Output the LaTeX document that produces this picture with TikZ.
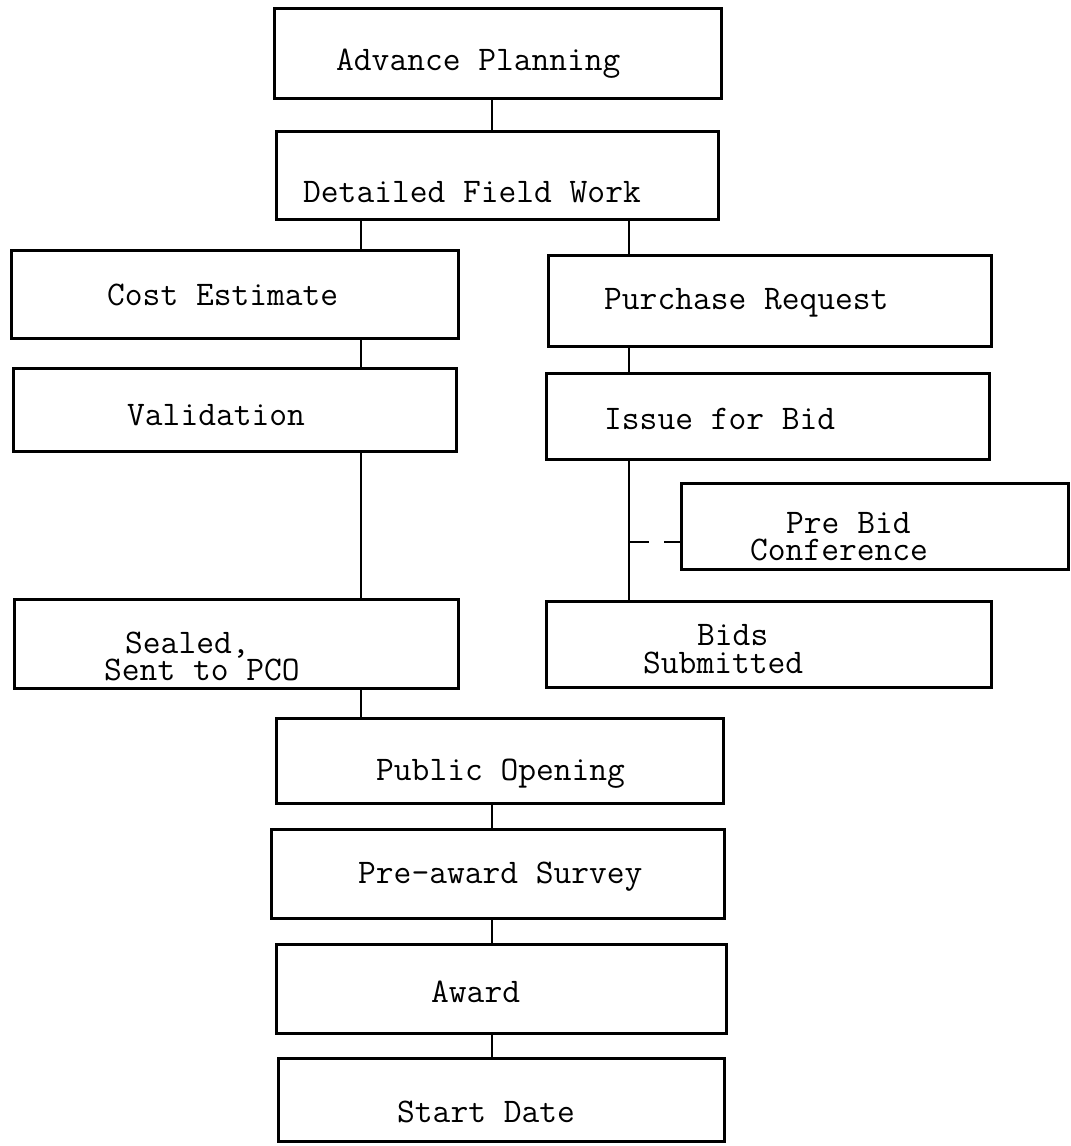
\documentclass[tikz,border=0pt]{standalone}
\begin{document}
\begin{tikzpicture}[x=1pt,y=-1pt,
  box/.style={draw, line width=3pt, inner sep=0pt, anchor=north west},
  lbl/.style={anchor=base west, inner sep=0pt, font=\ttfamily\fontsize{34.5}{28}\selectfont},
  link/.style={line width=2.2pt},
  ]
\useasboundingbox (0,0) rectangle (1071,1146);

% boxes (top-left corner, width, height)
\node[box, minimum width=447, minimum height=90] (plan)   at (273,7)    {};
\node[box, minimum width=442, minimum height=88] (field)  at (275,130)  {};
\node[box, minimum width=447, minimum height=88] (cost)   at (10,249)   {};
\node[box, minimum width=443, minimum height=91] (purch)  at (547,254)  {};
\node[box, minimum width=443, minimum height=83] (valid)  at (12,367)   {};
\node[box, minimum width=443, minimum height=86] (issue)  at (545,372)  {};
\node[box, minimum width=387, minimum height=86] (prebid) at (680,482)  {};
\node[box, minimum width=444, minimum height=89] (sealed) at (13,598)   {};
\node[box, minimum width=445, minimum height=86] (bids)   at (545,600)  {};
\node[box, minimum width=447, minimum height=85] (open)   at (275,717)  {};
\node[box, minimum width=453, minimum height=89] (survey) at (270,828)  {};
\node[box, minimum width=450, minimum height=89] (award)  at (275,943)  {};
\node[box, minimum width=446, minimum height=83] (start)  at (277,1057) {};

% typed labels
\node[lbl] (plan-t)    at (336,70)   {Advance Planning};
\node[lbl] (field-t)   at (303,202)  {Detailed Field Work};
\node[lbl] (cost-t)    at (107,305)  {Cost Estimate};
\node[lbl] (purch-t)   at (604,309)  {Purchase Request};
\node[lbl] (valid-t)   at (127,425)  {Validation};
\node[lbl] (issue-t)   at (604,429)  {Issue for Bid};
\node[lbl] (prebid-t1) at (786,533)  {Pre Bid};
\node[lbl] (prebid-t2) at (750,560)  {Conference};
\node[lbl] (sealed-t1) at (125,653)  {Sealed,};
\node[lbl] (sealed-t2) at (104,680)  {Sent to PCO};
\node[lbl] (bids-t1)   at (697,645)  {Bids};
\node[lbl] (bids-t2)   at (643,673)  {Submitted};
\node[lbl] (open-t)    at (376,780)  {Public Opening};
\node[lbl] (survey-t)  at (358,883)  {Pre-award Survey};
\node[lbl] (award-t)   at (431,1002) {Award};
\node[lbl] (start-t)   at (397,1122) {Start Date};

% columns of the connectors
\coordinate (cmid) at (492,0);
\coordinate (cleft) at (361,0);
\coordinate (cright) at (629,0);
\coordinate (tap) at (629,542);

\draw[link] (cmid |- plan.south) -- (cmid |- field.north);
\draw[link] (cleft |- field.south) -- (cleft |- cost.north);
\draw[link] (cright |- field.south) -- (cright |- purch.north);
\draw[link] (cleft |- cost.south) -- (cleft |- valid.north);
\draw[link] (cleft |- valid.south) -- (cleft |- sealed.north);
\draw[link] (cright |- purch.south) -- (cright |- issue.north);
\draw[link] (cright |- issue.south) -- (cright |- bids.north);
\draw[link, dash pattern=on 20pt off 15pt] (tap) -- (prebid.west |- tap);
\draw[link] (cleft |- sealed.south) -- (cleft |- open.north);
\draw[link] (cmid |- open.south) -- (cmid |- survey.north);
\draw[link] (cmid |- survey.south) -- (cmid |- award.north);
\draw[link] (cmid |- award.south) -- (cmid |- start.north);
\end{tikzpicture}
\end{document}
